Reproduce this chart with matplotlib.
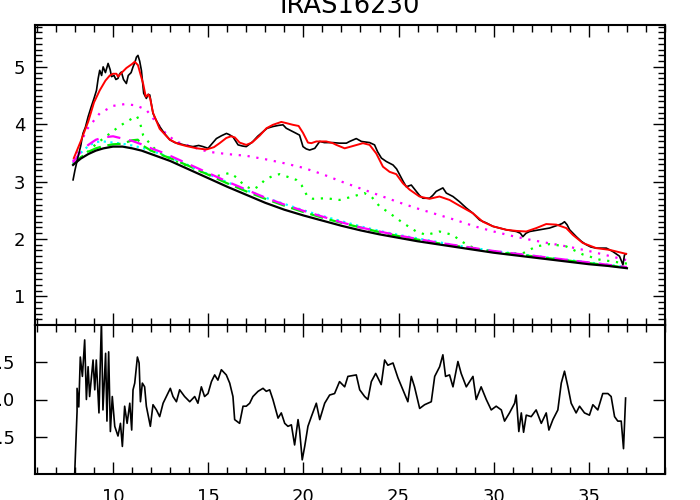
import numpy as np
import matplotlib
matplotlib.use("Agg")
import matplotlib.pyplot as plt
from matplotlib.ticker import MultipleLocator

wave_obs = [7.90, 8.00, 8.16, 8.30, 8.42, 8.55, 8.69, 8.85, 9.00, 9.13, 9.22, 9.30,
            9.40, 9.48, 9.60, 9.74, 9.85, 9.92, 10.05, 10.15, 10.26, 10.35, 10.44,
            10.55, 10.70, 10.80, 10.95, 11.05, 11.15, 11.23, 11.31, 11.40, 11.49,
            11.61, 11.75, 11.85, 11.93, 12.10, 12.25, 12.45, 12.70, 12.98, 13.25,
            13.50, 13.85, 14.20, 14.50, 14.73, 14.99, 15.20, 15.43, 15.70, 15.96,
            16.10, 16.30, 16.57, 16.80, 17.00, 17.20, 17.35, 17.60, 17.88, 18.10,
            18.40, 18.70, 18.93, 19.10, 19.28, 19.45, 19.63, 19.80, 19.98, 20.15,
            20.33, 20.60, 20.86, 21.10, 21.38, 21.55, 21.90, 22.26, 22.43, 22.78,
            23.05, 23.25, 23.48, 23.74, 23.90, 24.10, 24.36, 24.71, 24.90, 25.06,
            25.25, 25.41, 25.67, 25.93, 26.10, 26.28, 26.63, 26.80, 26.98, 27.15,
            27.33, 27.51, 27.86, 28.20, 28.56, 28.90, 29.26, 29.61, 29.96, 30.30,
            30.66, 31.19, 31.40, 31.53, 31.70, 31.89, 32.40, 32.93, 33.46, 33.60,
            33.72, 33.85, 33.99, 34.34, 34.60, 34.86, 35.10, 35.39, 35.92, 36.26,
            36.61, 36.79, 36.87, 36.95]
flux_obs = [3.03, 3.20, 3.43, 3.62, 3.84, 3.95, 4.13, 4.30, 4.45, 4.59, 4.80, 4.94,
            4.85, 5.00, 4.90, 5.06, 4.95, 4.83, 4.85, 4.78, 4.80, 4.88, 4.91,
            4.78, 4.71, 4.85, 4.90, 5.00, 5.08, 5.17, 5.20, 5.10, 4.94,
            4.54, 4.45, 4.52, 4.51, 4.19, 4.08, 3.96, 3.84, 3.73, 3.68,
            3.66, 3.63, 3.61, 3.63, 3.61, 3.58, 3.66, 3.75, 3.80, 3.84,
            3.82, 3.78, 3.64, 3.62, 3.61, 3.66, 3.70, 3.79, 3.87, 3.93,
            3.96, 3.98, 3.99, 3.93, 3.90, 3.87, 3.84, 3.81, 3.61, 3.57,
            3.55, 3.58, 3.70, 3.68, 3.68, 3.68, 3.67, 3.67, 3.70, 3.75,
            3.70, 3.69, 3.68, 3.64, 3.52, 3.41, 3.35, 3.29, 3.22, 3.12,
            3.00, 2.91, 2.94, 2.83, 2.76, 2.71, 2.71, 2.76, 2.83, 2.86,
            2.89, 2.80, 2.74, 2.65, 2.54, 2.45, 2.33, 2.28, 2.22, 2.19,
            2.16, 2.13, 2.10, 2.04, 2.10, 2.13, 2.16, 2.19, 2.25, 2.27,
            2.30, 2.25, 2.16, 2.04, 1.96, 1.90, 1.86, 1.84, 1.84, 1.78,
            1.70, 1.55, 1.72, 1.74]

# total fit
wave_fit = [7.94, 8.3, 8.7, 9.0, 9.3, 9.6, 9.83, 10.0, 10.18, 10.26, 10.4, 10.7, 11.0,
            11.14, 11.31, 11.45, 11.58, 11.72, 11.86, 11.95, 12.1, 12.45, 12.98, 13.4,
            13.85, 14.4, 14.9, 15.3, 15.6, 15.95, 16.2, 16.4, 16.65, 17.0, 17.3, 17.7,
            18.06, 18.4, 18.84, 19.1, 19.45, 19.75, 19.98, 20.24, 20.42, 20.68, 21.2,
            21.55, 21.73, 22.17, 22.6, 23.13, 23.48, 23.83, 24.18, 24.53, 24.88, 25.23,
            25.58, 26.1, 26.63, 27.15, 27.68, 28.2, 28.9, 29.43, 29.96, 30.66, 31.2,
            31.71, 32.24, 32.76, 33.29, 33.81, 34.16, 34.68, 35.39, 36.09, 36.96]
flux_fit = [3.41, 3.70, 4.05, 4.38, 4.59, 4.76, 4.85, 4.88, 4.88, 4.83, 4.88, 4.98, 5.05,
            5.09, 5.03, 4.86, 4.71, 4.48, 4.52, 4.45, 4.20, 3.92, 3.73, 3.66,
            3.62, 3.58, 3.56, 3.60, 3.67, 3.76, 3.79, 3.77, 3.68, 3.64, 3.68, 3.80,
            3.93, 3.99, 4.04, 4.02, 3.99, 3.97, 3.85, 3.68, 3.67, 3.70, 3.70,
            3.67, 3.64, 3.58, 3.62, 3.67, 3.64, 3.49, 3.26, 3.17, 3.13, 2.97,
            2.86, 2.74, 2.70, 2.74, 2.68, 2.58, 2.45, 2.30, 2.22, 2.16, 2.14,
            2.13, 2.19, 2.26, 2.25, 2.19, 2.07, 1.93, 1.84, 1.81, 1.74]

# continuum and components
wave_mod = [7.9, 8.3, 8.7, 9.1, 9.5, 10.0, 10.5, 11.0, 11.5, 12.0, 12.5, 13, 14, 15, 16,
            17, 18, 19, 20, 21, 22, 23, 24, 25, 26, 27, 28, 29, 30, 31, 32, 33, 34, 35,
            36, 37]
cont = [3.29, 3.40, 3.48, 3.54, 3.58, 3.61, 3.61, 3.58, 3.54, 3.48, 3.42, 3.36, 3.21,
        3.06, 2.91, 2.77, 2.63, 2.51, 2.41, 2.32, 2.23, 2.15, 2.08, 2.02, 1.96, 1.91,
        1.86, 1.81, 1.76, 1.72, 1.68, 1.64, 1.60, 1.56, 1.53, 1.49]
mag_dash = [3.33, 3.52, 3.64, 3.73, 3.77, 3.79, 3.75, 3.71, 3.65, 3.58, 3.52, 3.45, 3.30,
            3.15, 3.00, 2.86, 2.72, 2.60, 2.49, 2.39, 2.29, 2.20, 2.13, 2.06, 2.00, 1.94,
            1.89, 1.84, 1.79, 1.75, 1.71, 1.67, 1.63, 1.59, 1.55, 1.51]
cyan_dot = [3.31, 3.50, 3.62, 3.69, 3.70, 3.68, 3.66, 3.63, 3.59, 3.54, 3.48, 3.42, 3.28,
            3.13, 2.99, 2.85, 2.72, 2.61, 2.50, 2.40, 2.31, 2.22, 2.14, 2.07, 2.01, 1.95,
            1.89, 1.84, 1.79, 1.75, 1.71, 1.67, 1.63, 1.59, 1.55, 1.51]

wave_gdash = [7.9, 8.3, 8.7, 9.1, 9.5, 10.0, 10.5, 11.0, 11.3, 11.6, 12.0, 12.5, 13, 14,
              15, 16, 17, 18, 19, 20, 21, 22, 23, 24, 25, 26, 27, 28, 29, 30, 31, 32,
              33, 34, 35, 36, 37]
green_dash = [3.30, 3.42, 3.52, 3.58, 3.62, 3.65, 3.66, 3.72, 3.73, 3.62, 3.54, 3.47,
              3.41, 3.27, 3.12, 2.97, 2.83, 2.70, 2.58, 2.47, 2.37, 2.28, 2.20, 2.12,
              2.05, 1.99, 1.93, 1.88, 1.83, 1.78, 1.74, 1.70, 1.66, 1.62, 1.58, 1.54,
              1.50]

wave_gdot = [7.9, 8.3, 8.7, 9.13, 9.6, 10.0, 10.4, 10.7, 11.0, 11.25, 11.4, 11.58, 11.84,
             12.1, 12.45, 13, 13.5, 14, 14.5, 15.0, 15.5, 16.13, 16.5, 16.9, 17.35, 17.7,
             17.97, 18.4, 18.75, 19.2, 19.63, 19.9, 20.2, 20.5, 21.2, 21.9, 22.6, 23.2,
             23.57, 24.0, 24.53, 25.23, 25.93, 26.46, 27.15, 27.86, 28.2, 28.7, 29.26,
             30.0, 30.66, 31.53, 32.24, 32.93, 33.81, 34.68, 35.56, 36.79, 37.0]
green_dot = [3.32, 3.42, 3.53, 3.66, 3.78, 3.88, 3.98, 4.04, 4.10, 4.14, 4.05, 3.81, 3.70,
             3.60, 3.50, 3.40, 3.33, 3.26, 3.19, 3.12, 3.10, 3.15, 3.07, 2.93, 2.86, 2.93,
             3.03, 3.10, 3.13, 3.08, 3.03, 2.94, 2.75, 2.70, 2.71, 2.68, 2.74, 2.80,
             2.74, 2.57, 2.45, 2.28, 2.13, 2.07, 2.13, 2.07, 1.98, 1.88, 1.81,
             1.77, 1.75, 1.75, 1.87, 1.91, 1.87, 1.73, 1.64, 1.58, 1.57]

wave_mdot = [7.9, 8.6, 9.3, 10.0, 10.6, 11.2, 11.75, 12.3, 12.8, 13.3, 14.2, 15.0, 16, 17,
             18, 19, 20, 21, 22, 23, 24, 25, 26, 27, 28, 29, 30, 31, 32, 33, 34, 35, 36,
             37]
mag_dot = [3.35, 3.90, 4.19, 4.32, 4.35, 4.33, 4.25, 4.02, 3.83, 3.70, 3.60, 3.52, 3.48,
           3.45, 3.39, 3.32, 3.24, 3.13, 3.00, 2.88, 2.76, 2.64, 2.53, 2.43, 2.33, 2.22,
           2.13, 2.05, 1.98, 1.92, 1.86, 1.79, 1.71, 1.63]

# residuals
wave_res = [7.97, 8.11, 8.11, 8.20, 8.28, 8.39, 8.51, 8.60, 8.69, 8.77, 8.95, 9.04, 9.12,
            9.26, 9.39, 9.47, 9.61, 9.68, 9.77, 9.86, 9.96, 10.09, 10.26, 10.39, 10.49,
            10.61, 10.74, 10.88, 10.98, 11.05, 11.14, 11.28, 11.37, 11.44, 11.54, 11.66,
            11.75, 11.96, 12.10, 12.28, 12.45, 12.63, 12.80, 13.01, 13.15, 13.33, 13.50,
            13.76, 14.03, 14.29, 14.46, 14.64, 14.81, 14.99, 15.17, 15.34, 15.51, 15.69,
            15.95, 16.13, 16.30, 16.39, 16.65, 16.83, 17.00, 17.18, 17.35, 17.62, 17.88,
            18.05, 18.23, 18.40, 18.67, 18.84, 19.02, 19.19, 19.37, 19.54, 19.72, 19.80,
            19.94, 20.07, 20.24, 20.42, 20.68, 20.86, 21.12, 21.38, 21.64, 21.90, 22.17,
            22.34, 22.78, 22.96, 23.22, 23.39, 23.57, 23.80, 24.09, 24.27, 24.44, 24.71,
            24.97, 25.23, 25.49, 25.67, 25.84, 26.11, 26.37, 26.72, 26.90, 27.16, 27.33,
            27.47, 27.68, 27.86, 28.12, 28.29, 28.56, 28.91, 29.08, 29.34, 29.61, 29.87,
            30.13, 30.40, 30.57, 30.83, 31.10, 31.18, 31.32, 31.45, 31.57, 31.71, 31.97,
            32.23, 32.50, 32.76, 32.90, 33.11, 33.37, 33.55, 33.72, 33.90, 34.07, 34.33,
            34.51, 34.77, 35.03, 35.21, 35.47, 35.73, 36.00, 36.17, 36.35, 36.52, 36.70,
            36.82, 36.93]
resid = [-1.10, -0.16, 0.15, -0.10, 0.57, 0.31, 0.80, 0.00, 0.44, 0.04, 0.53, 0.13, 0.53,
         -0.18, 1.05, -0.14, 0.62, -0.29, 0.64, -0.43, 0.04, -0.36, -0.49, -0.32, -0.63,
         -0.09, -0.32, -0.05, -0.41, 0.13, 0.22, 0.57, 0.49, -0.03, 0.22, 0.17,
         -0.09, -0.36, -0.07, -0.14, -0.23, -0.05, 0.04, 0.15, 0.04, -0.03, 0.13,
         0.04, -0.03, 0.04, -0.05, 0.17, 0.04, 0.08, 0.24, 0.33, 0.26, 0.40,
         0.33, 0.22, 0.04, -0.27, -0.32, -0.09, -0.09, -0.05, 0.04, 0.11, 0.15,
         0.11, 0.13, 0.00, -0.25, -0.18, -0.32, -0.36, -0.34, -0.61, -0.27, -0.41,
         -0.81, -0.63, -0.36, -0.23, -0.05, -0.27, -0.05, 0.06, 0.08, 0.24, 0.17,
         0.31, 0.33, 0.13, 0.04, 0.00, 0.24, 0.35, 0.20, 0.53, 0.46, 0.49,
         0.29, 0.13, -0.03, 0.31, 0.17, -0.12, -0.07, -0.03, 0.31, 0.44, 0.60,
         0.31, 0.33, 0.17, 0.51, 0.35, 0.17, 0.31, 0.00, 0.17, 0.00, -0.14,
         -0.09, -0.14, -0.29, -0.18, -0.05, 0.06, -0.43, -0.18, -0.44, -0.21, -0.23,
         -0.14, -0.32, -0.18, -0.41, -0.27, -0.14, 0.22, 0.38, 0.17, -0.05, -0.18,
         -0.09, -0.18, -0.21, -0.07, -0.14, 0.08, 0.08, 0.04, -0.23, -0.29, -0.29,
         -0.66, 0.02]

xticks = [10, 15, 20, 25, 30, 35]


def idl_axes(ax):
    for s in ax.spines.values():
        s.set_linewidth(1.5)
    ax.tick_params(which="both", direction="in", top=True, right=True,
                   width=1.0, labelsize=13)
    ax.tick_params(which="major", length=8.5)
    ax.tick_params(which="minor", length=5)


fig = plt.figure(figsize=(7, 5), dpi=100)
ax1 = fig.add_axes([0.05, 0.35, 0.90, 0.60])
ax2 = fig.add_axes([0.05, 0.052, 0.90, 0.298])

# top panel: spectrum and fit decomposition
ax1.plot(wave_mdot, mag_dot, color="#ff00ff", lw=1.6, ls=(0, (1, 3)))
ax1.plot(wave_gdot, green_dot, color="#00ff00", lw=1.6, ls=(0, (1, 3)))
ax1.plot(wave_mod, cyan_dot, color="#00ffff", lw=1.6, ls=(0, (1, 2)))
ax1.plot(wave_gdash, green_dash, color="#00ee00", lw=1.6, ls=(0, (6, 3)))
ax1.plot(wave_mod, mag_dash, color="#ff00ff", lw=1.6, ls=(0, (6, 4)))
ax1.plot(wave_mod, cont, color="black", lw=1.6)
ax1.plot(wave_obs, flux_obs, color="black", lw=1.2)
ax1.plot(wave_fit, flux_fit, color="red", lw=1.4)

ax1.set_xlim(5.9, 39)
ax1.set_ylim(0.5, 5.73)
ax1.xaxis.set_major_locator(MultipleLocator(5))
ax1.xaxis.set_minor_locator(MultipleLocator(1))
ax1.yaxis.set_major_locator(MultipleLocator(1))
ax1.yaxis.set_minor_locator(MultipleLocator(0.1))
idl_axes(ax1)
ax1.tick_params(labelbottom=False, pad=7)

# bottom panel: residuals
ax2.plot(wave_res, resid, color="black", lw=1.2)
ax2.set_xlim(5.9, 39)
ax2.set_ylim(-1, 1)
ax2.set_xticks(xticks)
ax2.xaxis.set_minor_locator(MultipleLocator(1))
ax2.set_yticks([-0.5, 0.0, 0.5])
ax2.set_yticklabels(["-0.5", "0.0", "0.5"])
idl_axes(ax2)
ax2.tick_params(axis="x", pad=10)
ax2.tick_params(axis="y", pad=14)

fig.text(0.5, 1 - 13 / 500, "IRAS16230", ha="center", va="baseline", fontsize=18.5)

fig.savefig("out.png", dpi=100)
